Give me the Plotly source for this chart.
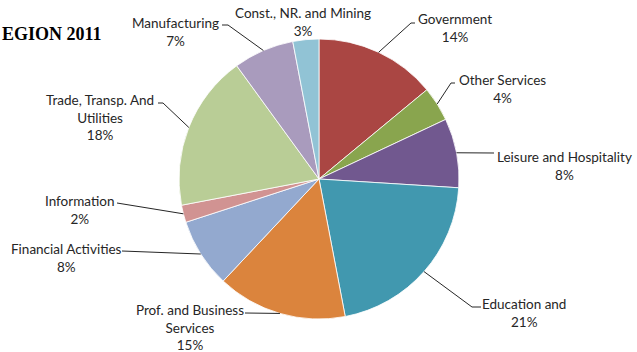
import math
import plotly.graph_objects as go

W, H = 637, 352

# Employment share by industry (percent), clockwise from 12 o'clock
sectors = [
    "Government",
    "Other Services",
    "Leisure and Hospitality",
    "Education and",
    "Prof. and Business<br>Services",
    "Financial Activities",
    "Information",
    "Trade, Transp. And<br>Utilities",
    "Manufacturing",
    "Const., NR. and Mining",
]
shares = [14, 4, 8, 21, 15, 8, 2, 18, 7, 3]
colors = [
    "#AA4643", "#89A54E", "#71588F", "#4198AF", "#DB843D",
    "#93A9CF", "#D19392", "#B9CD96", "#A99BBD", "#91C3D5",
]
title_text = "EGION 2011"

# Pie geometry in pixels
CX, CY, R = 319, 179, 140

# Label block centre (px) and leader-line path from slice edge to text (px)
label_pos = [
    ((455, 28.5), [(411, 23), (415, 23)]),
    ((502, 89), [(451, 83), (455, 83)]),
    ((564, 166), [(494, 153)]),
    ((524, 312.5), [(472, 307), (481, 307)]),
    ((190, 327), [(245, 313)]),
    ((66, 257.5), [(122, 251)]),
    ((79, 210), [(117, 203)]),
    ((100, 117.5), [(163, 103), (158, 103)]),
    ((175, 32), [(228, 25), (222, 25)]),
    ((303, 22), None),
]


def px(x):
    return x / W


def py(y):
    return 1 - y / H


fig = go.Figure()
fig.add_trace(go.Pie(
    labels=sectors,
    values=shares,
    sort=False,
    direction="clockwise",
    rotation=0,
    textinfo="none",
    hoverinfo="label+percent",
    marker=dict(colors=colors, line=dict(color="rgba(255,255,255,0.8)", width=1)),
    domain=dict(x=[px(CX - R), px(CX + R)], y=[py(CY + R), py(CY - R)]),
    showlegend=False,
))

total = sum(shares)
shapes = []
annotations = []
cum = 0.0
for name, val, (pos, path) in zip(sectors, shares, label_pos):
    mid = (cum + val / 2) / total * 2 * math.pi
    cum += val
    ex = CX + R * math.sin(mid)
    ey = CY - R * math.cos(mid)
    if path:
        pts = [(ex, ey)] + path
        for (x0, y0), (x1, y1) in zip(pts[:-1], pts[1:]):
            shapes.append(dict(
                type="line", xref="paper", yref="paper",
                x0=px(x0), y0=py(y0), x1=px(x1), y1=py(y1),
                line=dict(color="#262626", width=1),
            ))
    pct = round(val / total * 100)
    annotations.append(dict(
        text=f"{name}<br>{pct}%",
        xref="paper", yref="paper",
        x=px(pos[0]), y=py(pos[1]),
        xanchor="center", yanchor="middle",
        showarrow=False, align="center",
        font=dict(family="Lato", size=13.5, color="#262626"),
    ))

annotations.append(dict(
    text=f"<b>{title_text}</b>",
    xref="paper", yref="paper",
    x=0, y=py(34), xanchor="left", yanchor="middle",
    showarrow=False,
    font=dict(family="Liberation Serif", size=18, color="#000000"),
))

fig.update_layout(
    width=W, height=H,
    margin=dict(l=0, r=0, t=0, b=0),
    paper_bgcolor="white",
    plot_bgcolor="white",
    shapes=shapes,
    annotations=annotations,
)

fig.write_html("out.html")
